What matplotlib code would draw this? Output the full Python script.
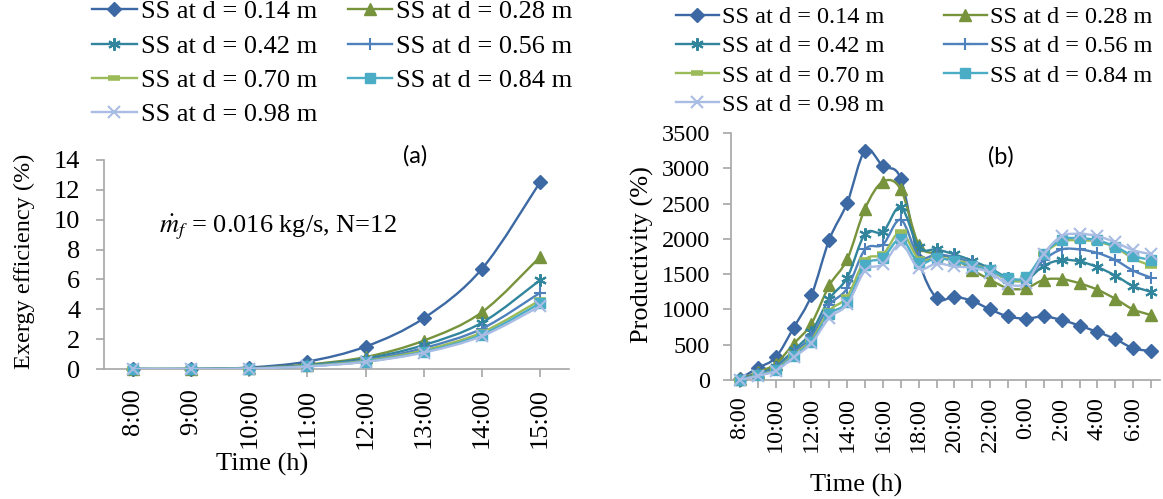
import numpy as np
import matplotlib.pyplot as plt
from matplotlib.path import Path
from matplotlib.patches import PathPatch
from matplotlib.lines import Line2D

plt.rcParams['font.family'] = ['Liberation Serif', 'DejaVu Serif']
plt.rcParams['mathtext.fontset'] = 'stix'

# ---- data ----
hours_a = ['8:00', '9:00', '10:00', '11:00', '12:00', '13:00', '14:00', '15:00']
eff_014 = [0, 0, 0.1, 0.5, 1.5, 3.4, 6.7, 12.5]
eff_028 = [0, 0, 0.05, 0.3, 0.8, 1.9, 3.8, 7.5]
eff_042 = [0, 0, 0.04, 0.25, 0.7, 1.6, 3.1, 5.95]
eff_056 = [0, 0, 0.04, 0.22, 0.6, 1.4, 2.7, 5.1]
eff_070 = [0, 0, 0.03, 0.2, 0.55, 1.25, 2.45, 4.6]
eff_084 = [0, 0, 0.03, 0.18, 0.5, 1.15, 2.3, 4.4]
eff_098 = [0, 0, 0.03, 0.17, 0.48, 1.1, 2.2, 4.2]

hours_b = ['8:00', '9:00', '10:00', '11:00', '12:00', '13:00', '14:00', '15:00',
           '16:00', '17:00', '18:00', '19:00', '20:00', '21:00', '22:00', '23:00',
           '0:00', '1:00', '2:00', '3:00', '4:00', '5:00', '6:00', '7:00']
prod_014 = [20, 170, 320, 740, 1200, 1990, 2510, 3250, 3030, 2850, 1700, 1160,
            1180, 1120, 1000, 900, 870, 900, 850, 770, 680, 580, 450, 410]
prod_028 = [10, 110, 230, 510, 800, 1340, 1710, 2430, 2810, 2700, 1920, 1790,
            1720, 1560, 1420, 1300, 1300, 1420, 1430, 1370, 1280, 1150, 1000, 920]
prod_042 = [5, 90, 190, 420, 680, 1150, 1450, 2070, 2100, 2450, 1880, 1850,
            1780, 1690, 1580, 1450, 1420, 1620, 1700, 1680, 1600, 1480, 1330, 1250]
prod_056 = [5, 80, 170, 390, 620, 1060, 1300, 1850, 1920, 2270, 1750, 1780,
            1740, 1660, 1560, 1420, 1430, 1700, 1850, 1850, 1800, 1700, 1550, 1450]
prod_070 = [0, 70, 150, 360, 570, 980, 1180, 1700, 1780, 2100, 1720, 1730,
            1700, 1640, 1560, 1420, 1440, 1780, 1960, 1980, 1960, 1880, 1720, 1620]
prod_084 = [0, 65, 140, 340, 540, 930, 1100, 1630, 1730, 2000, 1660, 1730,
            1680, 1620, 1560, 1440, 1460, 1790, 1990, 2010, 1980, 1890, 1760, 1700]
prod_098 = [0, 60, 130, 320, 520, 880, 1070, 1550, 1640, 1930, 1580, 1650,
            1610, 1590, 1520, 1360, 1380, 1790, 2040, 2070, 2040, 1950, 1840, 1780]

labels = ['SS at d = 0.14 m', 'SS at d = 0.28 m', 'SS at d = 0.42 m',
          'SS at d = 0.56 m', 'SS at d = 0.70 m', 'SS at d = 0.84 m',
          'SS at d = 0.98 m']

colors = ['#3C69A3', '#77933C', '#31859C', '#4F81BD', '#9BBB59', '#4BACC6', '#A9BCE3']
markers = ['D', '^', (6, 2, 0), '+', '_', 's', 'x']
msizes = [7.5, 8.5, 9, 9, 8, 7.5, 8]
mews = [1, 1, 1.5, 1.5, 4, 1, 1.5]
grey = '#A6A6A6'


def smooth(ax, y, color, z):
    # Excel-like smoothed line drawn as cubic bezier through the data points
    x = np.arange(len(y), dtype=float)
    p = np.column_stack([x, np.asarray(y, dtype=float)])
    n = len(p)
    verts = [p[0]]
    codes = [Path.MOVETO]
    for i in range(n - 1):
        p0 = p[i - 1] if i > 0 else p[i]
        p3 = p[i + 2] if i + 2 < n else p[i + 1]
        c1 = p[i] + (p[i + 1] - p0) / 6
        c2 = p[i + 1] - (p3 - p[i]) / 6
        verts += [c1, c2, p[i + 1]]
        codes += [Path.CURVE4] * 3
    ax.add_patch(PathPatch(Path(verts, codes), fc='none', ec=color, lw=1.7, zorder=z))


def draw(ax, series, lsize):
    for k, y in enumerate(series):
        smooth(ax, y, colors[k], 2 + k)
        ax.plot(np.arange(len(y)), y, ls='none', marker=markers[k], ms=msizes[k],
                mew=mews[k], color=colors[k], mec=colors[k], zorder=2.5 + k,
                clip_on=False)
    for s in ['top', 'right']:
        ax.spines[s].set_visible(False)
    for s in ['left', 'bottom']:
        ax.spines[s].set_color(grey)
        ax.spines[s].set_linewidth(1.2)
    ax.tick_params(colors=grey, labelcolor='black', length=6, width=1.2,
                   labelsize=lsize)


fig = plt.figure(figsize=(11.63, 4.99), dpi=100)

# ---- (a) exergy efficiency ----
ax1 = fig.add_axes([104 / 1163, 1 - 369 / 499, 465 / 1163, 209 / 499])
draw(ax1, [eff_014, eff_028, eff_042, eff_056, eff_070, eff_084, eff_098], 19)
ax1.set_xlim(-0.5, len(hours_a) - 0.5)
ax1.set_ylim(0, 14)
ax1.set_yticks(np.arange(0, 15, 2))
ax1.set_xticks(np.arange(len(hours_a)))
ax1.set_xticklabels(hours_a, rotation=90)
ax1.tick_params(axis='y', pad=11)
ax1.tick_params(axis='x', pad=8)
ax1.text(0.45, 9.5, r'$\dot{m}_f$ = 0.016 kg/s, N=12', fontsize=19, va='center')
ax1.text(4.85, 14.25, '(a)', fontsize=17, family='Lato', ha='center', va='center')
fig.text(262 / 1163, 1 - 464 / 499, 'Time (h)', fontsize=19, ha='center', va='center')
fig.text(24 / 1163, 1 - 261 / 499, 'Exergy efficiency (%)', fontsize=17.5,
         rotation=90, ha='center', va='center')

# ---- (b) productivity ----
ax2 = fig.add_axes([731 / 1163, 1 - 380 / 499, 429 / 1163, 247 / 499])
draw(ax2, [prod_014, prod_028, prod_042, prod_056, prod_070, prod_084, prod_098], 17.5)
ax2.set_xlim(-0.5, len(hours_b) - 0.5)
ax2.set_ylim(0, 3500)
ax2.set_yticks(np.arange(0, 3501, 500))
ax2.set_xticks(np.arange(len(hours_b)))
ax2.set_xticklabels([h if i % 2 == 0 else '' for i, h in enumerate(hours_b)], rotation=90)
ax2.tick_params(axis='y', pad=9)
ax2.tick_params(axis='x', pad=6)
ax2.text(14.6, 3160, '(b)', fontsize=17, family='Lato', ha='center', va='center')
fig.text(856 / 1163, 1 - 485 / 499, 'Time (h)', fontsize=19, ha='center', va='center')
fig.text(642 / 1163, 1 - 255 / 499, 'Productivity (%)', fontsize=19,
         rotation=90, ha='center', va='center')

# ---- legends ----
handles = [Line2D([], [], color=colors[k], lw=1.7, marker=markers[k], ms=msizes[k],
                  mew=mews[k], mec=colors[k]) for k in range(7)]
order = [0, 2, 4, 6, 1, 3, 5]
fig.legend([handles[i] for i in order], [labels[i] for i in order],
           loc='upper left', bbox_to_anchor=(92 / 1163, 1.0), ncol=2, frameon=False,
           borderpad=0, borderaxespad=0, handlelength=1.7, handletextpad=0.15,
           columnspacing=1.15, labelspacing=0.41, fontsize=19, numpoints=1)
fig.legend([handles[i] for i in order], [labels[i] for i in order],
           loc='upper left', bbox_to_anchor=(676 / 1163, 1 - 6 / 499), ncol=2, frameon=False,
           borderpad=0, borderaxespad=0, handlelength=1.75, handletextpad=0.15,
           columnspacing=2.45, labelspacing=0.3, fontsize=17.5, numpoints=1)

fig.savefig('out.png', dpi=100)
